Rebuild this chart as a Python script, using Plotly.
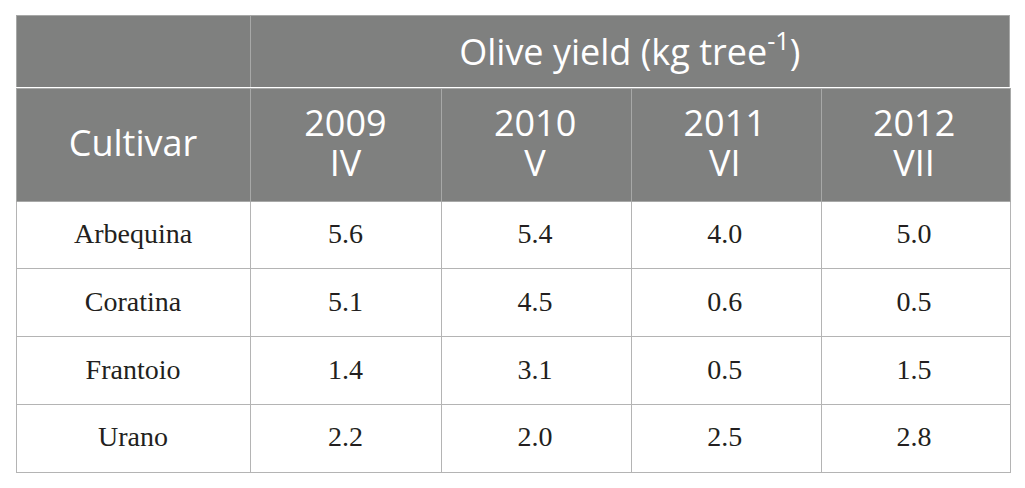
import plotly.graph_objects as go

cultivars = ["Arbequina", "Coratina", "Frantoio", "Urano"]
years = ["2009", "2010", "2011", "2012"]
tree_age = ["IV", "V", "VI", "VII"]
yield_2009 = ["5.6", "5.1", "1.4", "2.2"]
yield_2010 = ["5.4", "4.5", "3.1", "2.0"]
yield_2011 = ["4.0", "0.6", "0.5", "2.5"]
yield_2012 = ["5.0", "0.5", "1.5", "2.8"]
group_title = "Olive yield (kg tree<sup>-1</sup>)"
first_col = "Cultivar"

W, H = 1025, 488
OFF = 8  # page body margin
# screen pixel positions of the grid
col_x = [16, 250.5, 440.5, 630, 820, 1009]
top, mid, body_top, bottom = 15, 88, 201, 472
row_h = (bottom - body_top) / 4

header_grey = "#7f807f"
head_line = "#a7a8a7"
body_line = "#b4b4b4"
clear = "rgba(0,0,0,0)"
no_line = dict(color=clear, width=0)
sans = "Open Sans"
serif = "Liberation Serif"
head_size = 36
body_size = 28

# vertical text shifts (plotly tables put text at the top of a cell)
d_top = 0
d_cult = 33
d_year = 13
d_age = 53
d_body = 13


def px(v):
    return (v - OFF) / W


def py(v):
    return 1 - (v - OFF) / H


widths = [col_x[i + 1] - col_x[i] for i in range(5)]
empty4 = [[""] * 4 for _ in range(5)]
head_font = dict(family=sans, size=head_size, color="white")
body_font = dict(family=serif, size=body_size, color="#231f20")

fig = go.Figure()

# grid: top merged header row
fig.add_trace(go.Table(
    domain=dict(x=[px(col_x[0]), px(col_x[-1])], y=[py(mid), py(top)]),
    columnwidth=[widths[0], sum(widths[1:])],
    header=dict(values=["", ""], fill_color=header_grey,
                line=dict(color=head_line, width=1), height=mid - top),
    cells=dict(values=[[], []]),
))

# grid: second header row + body
fig.add_trace(go.Table(
    domain=dict(x=[px(col_x[0]), px(col_x[-1]) + 0.002], y=[py(bottom + 2), py(mid)]),
    columnwidth=widths,
    header=dict(values=[""] * 5, fill_color=header_grey,
                line=dict(color=head_line, width=1), height=body_top - mid),
    cells=dict(values=empty4, fill_color="white",
               line=dict(color=body_line, width=1), height=row_h),
))

# text: group title
fig.add_trace(go.Table(
    domain=dict(x=[px(col_x[0]), px(col_x[-1])], y=[py(mid + d_top), py(top + d_top)]),
    columnwidth=[widths[0], sum(widths[1:])],
    header=dict(values=["", group_title], fill_color=clear, line=no_line,
                align="center", font=head_font, height=mid - top),
    cells=dict(values=[[], []]),
))

# text: cultivar column
fig.add_trace(go.Table(
    domain=dict(x=[px(col_x[0]), px(col_x[1])], y=[py(bottom + d_body), py(mid + d_cult)]),
    columnwidth=[widths[0]],
    header=dict(values=[first_col], fill_color=clear, line=no_line,
                align="center", font=head_font,
                height=body_top + d_body - mid - d_cult),
    cells=dict(values=[cultivars], fill_color=clear, line=no_line,
               align="center", font=body_font, height=row_h),
))

# text: tree age line of the year headers
fig.add_trace(go.Table(
    domain=dict(x=[px(col_x[1]), px(col_x[-1])], y=[py(body_top), py(mid + d_age)]),
    columnwidth=widths[1:],
    header=dict(values=tree_age, fill_color=clear, line=no_line,
                align="center", font=head_font, height=body_top - mid - d_age),
    cells=dict(values=[[] for _ in range(4)]),
))

# text: years + yield columns
fig.add_trace(go.Table(
    domain=dict(x=[px(col_x[1]), px(col_x[-1])], y=[py(bottom + d_body), py(mid + d_year)]),
    columnwidth=widths[1:],
    header=dict(values=years, fill_color=clear, line=no_line,
                align="center", font=head_font,
                height=body_top + d_body - mid - d_year),
    cells=dict(values=[yield_2009, yield_2010, yield_2011, yield_2012],
               fill_color=clear, line=no_line, align="center",
               font=body_font, height=row_h),
))

fig.update_layout(
    width=W, height=H,
    margin=dict(l=0, r=0, t=0, b=0),
    paper_bgcolor="white",
)

fig.write_html("out.html")
